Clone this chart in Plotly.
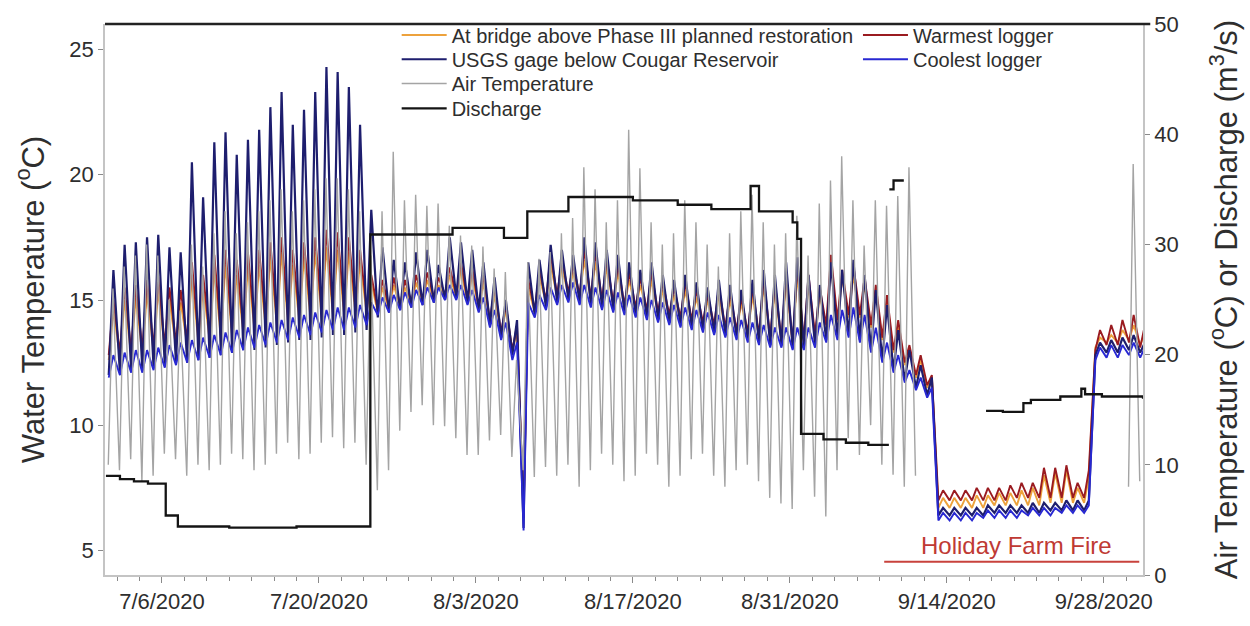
import pandas as pd
import plotly.graph_objects as go

# Calendar days covered by the loggers (7/1/2020 .. 10/1/2020)
days = pd.date_range("2020-07-01", "2020-10-01", freq="D")

# ---- Water temperature, daily low / high (deg C) ----
usgs_high = [
    16.2, 17.2, 17.3, 17.5, 17.6, 17.1, 16.9, 20.5, 19.1, 21.3,
    21.7, 20.8, 21.4, 21.8, 22.7, 23.3, 22.0, 22.6, 23.3, 24.3,
    24.1, 23.5, 22.0, 18.6, 17.1, 16.6, 16.5, 16.9, 17.0, 16.4, 17.5,
    17.3, 17.0, 16.5, 15.9, 15.0, 14.2, 16.5, 16.6, 17.2, 17.0,
    16.8, 17.5, 17.3, 17.0, 16.8, 16.5, 16.2, 16.5, 16.0, 15.8,
    16.0, 15.7, 15.5, 15.8, 15.6, 15.4, 15.8, 16.2, 16.0, 16.5, 16.7,
    16.0, 15.6, 16.5, 16.2, 16.6, 16.0, 15.4, 14.8, 13.8, 13.0,
    12.4, 11.9, 6.7, 6.7, 6.7, 6.7, 6.8, 6.8, 6.8, 6.8,
    6.9, 6.9, 6.9, 7.0, 7.0, 7.0, 13.3, 13.4, 13.5, 13.6,
    13.3,
]
usgs_low = [
    12.0, 12.1, 12.2, 12.2, 12.3, 12.4, 12.5, 12.5, 12.6, 12.7,
    12.8, 12.9, 13.0, 13.0, 13.1, 13.2, 13.3, 13.4, 13.4, 13.5,
    13.6, 13.6, 13.7, 13.8, 14.3, 14.5, 14.6, 14.7, 14.8, 14.9, 15.0,
    15.1, 14.9, 14.6, 14.0, 13.5, 12.8, 5.9, 14.4, 14.7, 14.9,
    15.0, 14.9, 14.8, 14.7, 14.6, 14.5, 14.4, 14.3, 14.2, 14.1,
    14.0, 13.9, 13.8, 13.7, 13.6, 13.5, 13.4, 13.3, 13.2, 13.2, 13.1,
    13.1, 13.2, 13.4, 13.5, 13.6, 13.4, 13.0, 12.6, 12.2, 11.8,
    11.5, 11.2, 6.4, 6.4, 6.4, 6.4, 6.4, 6.5, 6.5, 6.5,
    6.5, 6.5, 6.6, 6.6, 6.6, 6.6, 12.8, 12.9, 12.9, 13.0,
    12.9,
]
bridge_high = [
    14.6, 15.0, 15.1, 15.3, 15.4, 15.0, 14.9, 15.9, 15.5, 16.2,
    16.4, 16.0, 16.3, 16.4, 16.7, 16.9, 16.4, 16.7, 16.9, 17.1,
    17.0, 16.9, 16.5, 15.7, 15.5, 15.6, 15.5, 15.7, 15.8, 15.6, 16.0,
    16.2, 16.0, 15.7, 15.2, 14.6, 13.8, 15.5, 15.9, 16.4, 16.3,
    16.1, 16.6, 16.5, 16.3, 16.1, 15.8, 15.6, 15.8, 15.4, 15.2,
    15.4, 15.1, 15.0, 15.2, 15.0, 14.9, 15.2, 15.6, 15.4, 15.8, 16.0,
    15.6, 15.2, 16.3, 15.9, 16.0, 15.6, 15.3, 14.9, 14.0, 13.0,
    12.6, 11.9, 7.1, 7.1, 7.1, 7.2, 7.2, 7.3, 7.3, 7.4,
    7.5, 8.0, 8.1, 8.2, 7.5, 7.9, 13.5, 13.6, 13.8, 14.0,
    13.7,
]
bridge_low = [
    12.6, 12.7, 12.8, 12.8, 12.9, 13.0, 13.1, 13.2, 13.3, 13.4,
    13.5, 13.6, 13.7, 13.8, 13.9, 14.0, 14.1, 14.2, 14.3, 14.3,
    14.4, 14.4, 14.5, 14.5, 14.5, 14.6, 14.7, 14.8, 14.9, 15.0, 15.1,
    15.1, 14.9, 14.6, 14.1, 13.6, 12.9, 6.5, 14.5, 14.9, 15.1,
    15.2, 15.1, 15.0, 14.9, 14.8, 14.7, 14.6, 14.5, 14.4, 14.3,
    14.2, 14.1, 14.0, 13.9, 13.8, 13.7, 13.6, 13.5, 13.4, 13.3, 13.2,
    13.3, 13.5, 13.9, 14.1, 14.3, 14.3, 13.9, 13.4, 12.9, 12.4,
    11.9, 11.5, 6.7, 6.7, 6.7, 6.7, 6.7, 6.8, 6.8, 6.8,
    6.8, 6.8, 6.9, 6.9, 6.9, 6.9, 13.1, 13.3, 13.3, 13.4,
    13.2,
]
warm_high = [
    15.0, 15.5, 15.6, 15.8, 15.9, 15.5, 15.4, 16.5, 16.0, 16.8,
    17.0, 16.6, 16.9, 17.0, 17.3, 17.5, 17.0, 17.3, 17.5, 17.8,
    17.7, 17.5, 17.0, 16.0, 15.8, 15.9, 15.8, 16.0, 16.1, 15.9, 16.3,
    16.5, 16.3, 16.0, 15.5, 14.8, 14.0, 15.8, 16.2, 16.8, 16.6,
    16.4, 17.0, 16.9, 16.6, 16.4, 16.1, 15.9, 16.1, 15.7, 15.5,
    15.7, 15.4, 15.2, 15.5, 15.3, 15.1, 15.5, 15.9, 15.7, 16.1, 16.3,
    16.0, 15.5, 16.8, 16.2, 16.4, 15.9, 15.6, 15.2, 14.2, 13.2,
    12.8, 12.0, 7.4, 7.4, 7.4, 7.5, 7.5, 7.5, 7.6, 7.7,
    7.7, 8.3, 8.3, 8.4, 7.7, 8.2, 13.8, 14.0, 14.2, 14.4,
    14.0,
]
warm_low = [
    12.8, 12.9, 13.0, 13.0, 13.1, 13.2, 13.3, 13.4, 13.5, 13.6,
    13.7, 13.8, 13.9, 14.0, 14.1, 14.2, 14.3, 14.4, 14.5, 14.5,
    14.6, 14.6, 14.7, 14.7, 14.6, 14.7, 14.8, 14.9, 15.0, 15.1, 15.2,
    15.2, 15.0, 14.7, 14.2, 13.7, 13.0, 6.3, 14.6, 15.0, 15.2,
    15.3, 15.2, 15.1, 15.0, 14.9, 14.8, 14.7, 14.6, 14.5, 14.4,
    14.3, 14.2, 14.1, 14.0, 13.9, 13.8, 13.7, 13.6, 13.5, 13.4, 13.3,
    13.4, 13.6, 14.0, 14.2, 14.4, 14.4, 14.0, 13.5, 13.0, 12.5,
    12.0, 11.6, 7.0, 7.0, 7.0, 7.0, 7.0, 7.0, 7.0, 7.1,
    7.1, 7.1, 7.1, 7.1, 7.1, 7.1, 13.0, 13.2, 13.2, 13.3,
    13.1,
]
cool_high = [
    12.8, 12.9, 13.0, 13.0, 13.1, 13.2, 13.3, 13.4, 13.5, 13.6,
    13.7, 13.8, 13.9, 14.0, 14.1, 14.2, 14.3, 14.4, 14.5, 14.6,
    14.7, 14.7, 14.8, 14.9, 15.1, 15.2, 15.3, 15.4, 15.5, 15.5, 15.6,
    15.6, 15.4, 15.1, 14.6, 14.1, 13.3, 14.9, 15.2, 15.5, 15.6,
    15.7, 15.6, 15.5, 15.4, 15.3, 15.2, 15.1, 15.0, 14.9, 14.8,
    14.7, 14.6, 14.5, 14.4, 14.3, 14.2, 14.1, 14.0, 13.9, 13.9, 13.9,
    13.9, 14.1, 14.4, 14.6, 14.7, 14.4, 13.9, 13.3, 12.8, 12.2,
    11.9, 11.5, 6.5, 6.5, 6.5, 6.5, 6.6, 6.6, 6.6, 6.6,
    6.7, 6.7, 6.7, 6.8, 6.8, 6.8, 13.1, 13.2, 13.2, 13.3,
    13.1,
]
cool_low = [
    11.9, 12.0, 12.1, 12.1, 12.2, 12.3, 12.4, 12.5, 12.6, 12.7,
    12.8, 12.9, 13.0, 13.1, 13.2, 13.3, 13.4, 13.5, 13.6, 13.7,
    13.8, 13.8, 13.9, 14.0, 14.4, 14.5, 14.6, 14.7, 14.8, 14.9, 15.0,
    15.0, 14.8, 14.5, 13.9, 13.4, 12.6, 5.8, 14.3, 14.6, 14.8,
    14.9, 14.8, 14.7, 14.6, 14.5, 14.4, 14.3, 14.2, 14.1, 14.0,
    13.9, 13.8, 13.7, 13.6, 13.5, 13.4, 13.3, 13.2, 13.1, 13.1, 13.0,
    13.0, 13.1, 13.3, 13.4, 13.5, 13.3, 12.9, 12.5, 12.1, 11.7,
    11.4, 11.1, 6.2, 6.2, 6.2, 6.2, 6.3, 6.3, 6.3, 6.3,
    6.4, 6.4, 6.4, 6.5, 6.5, 6.5, 12.6, 12.7, 12.7, 12.8,
    12.7,
]

# ---- Air temperature, daily low / high (deg C); station offline 9/11 - 9/29 ----
air_high = [
    26.0, 28.0, 29.0, 30.0, 29.0, 25.0, 24.0, 30.0, 28.0, 31.0,
    33.0, 31.0, 32.0, 33.0, 34.0, 35.0, 33.0, 34.0, 35.0, 36.0,
    36.0, 35.0, 33.0, 29.0, 33.0, 38.4, 34.0, 34.5, 33.5, 33.7, 31.7,
    30.8, 29.9, 29.8, 27.8, 27.5, 19.5, 28.4, 28.7, 29.3, 31.0,
    32.4, 37.0, 35.0, 32.0, 34.0, 40.4, 36.9, 32.0, 30.0, 31.0,
    34.0, 32.0, 30.0, 28.0, 31.0, 33.0, 34.5, 32.0, 30.0, 31.0, 32.6,
    29.0, 33.7, 35.8, 38.0, 34.0, 29.9, 34.0, 33.5, 34.4, 37.0,
] + [None] * 19 + [37.3, None]
air_low = [
    10.0, 9.5, 10.5, 8.5, 9.0, 11.0, 10.5, 9.0, 10.0, 9.5,
    10.0, 11.0, 10.5, 9.5, 10.0, 11.0, 12.0, 10.5, 11.0, 12.0,
    12.5, 11.5, 12.0, 10.0, 7.7, 9.5, 13.1, 14.8, 15.4, 13.6, 13.5,
    12.4, 10.9, 10.9, 12.2, 12.7, 10.7, 9.5, 8.9, 9.8, 9.0,
    10.0, 8.0, 9.5, 11.0, 10.0, 8.5, 9.0, 11.0, 10.0, 8.0,
    9.0, 10.5, 11.0, 9.0, 8.0, 9.5, 10.0, 8.5, 7.0, 6.5, 6.0,
    9.5, 7.1, 5.3, 9.5, 12.4, 10.9, 13.6, 10.0, 9.1, 8.0,
    9.0,
] + [None] * 18 + [8.0, 8.5]

# ---- Discharge (m3/s): step changes; None marks missing record ----
discharge_time = [
    "2020-07-01 00:00", "2020-07-02 06:00", "2020-07-03 12:00", "2020-07-04 18:00",
    "2020-07-06 08:00", "2020-07-07 10:00", "2020-07-12 00:00", "2020-07-18 00:00",
    "2020-07-24 14:00", "2020-07-31 22:00", "2020-08-05 12:00", "2020-08-07 14:00",
    "2020-08-11 06:00", "2020-08-17 00:00", "2020-08-21 00:00", "2020-08-24 00:00",
    "2020-08-27 12:00", "2020-08-28 06:00", "2020-08-31 06:00", "2020-08-31 16:00",
    "2020-09-01 00:00", "2020-09-03 00:00", "2020-09-05 00:00", "2020-09-07 00:00",
    "2020-09-08 20:00", "2020-09-08 20:30",
    "2020-09-08 21:00", "2020-09-09 06:00", "2020-09-10 04:00", "2020-09-10 05:00",
    "2020-09-17 12:00", "2020-09-19 00:00", "2020-09-20 20:00", "2020-09-21 12:00",
    "2020-09-24 03:00", "2020-09-26 00:00", "2020-09-26 08:00", "2020-09-27 20:00",
    "2020-10-01 12:00",
]
discharge_value = [
    9.0, 8.7, 8.5, 8.3,
    5.4, 4.4, 4.3, 4.4,
    30.9, 31.5, 30.6, 33.0,
    34.3, 34.0, 33.6, 33.2,
    35.3, 33.0, 32.0, 30.5,
    12.8, 12.3, 12.0, 11.8,
    11.8, None,
    35.0, 35.8, 35.8, None,
    14.9, 14.8, 15.6, 15.9,
    16.2, 16.9, 16.4, 16.2,
    16.0,
]

# ---- Holiday Farm Fire period ----
fire_time = ["2020-09-08 10:00", "2020-10-01 04:00"]
fire_level = [1.2, 1.2]
fire_label = "Holiday Farm Fire"


def daily_cycle(lows, highs, low_hour, high_hour):
    xs, ys = [], []
    for d, lo, hi in zip(days, lows, highs):
        xs += [d + pd.Timedelta(hours=low_hour), d + pd.Timedelta(hours=high_hour)]
        ys += [lo, hi]
    return xs, ys


air_x, air_y = daily_cycle(air_low, air_high, 5, 15)
usgs_x, usgs_y = daily_cycle(usgs_low, usgs_high, 6, 16)
bridge_x, bridge_y = daily_cycle(bridge_low, bridge_high, 6, 16)
warm_x, warm_y = daily_cycle(warm_low, warm_high, 6, 16)
cool_x, cool_y = daily_cycle(cool_low, cool_high, 6, 16)

fig = go.Figure()

# each legend entry sits in its own legend box so rows can be placed freely
fig.add_trace(go.Scatter(
    x=air_x, y=air_y, yaxis="y2", mode="lines", name="Air Temperature",
    line=dict(color="#A4A4A4", width=1.4), connectgaps=False, legend="legend3"))
fig.add_trace(go.Scatter(
    x=pd.to_datetime(discharge_time), y=discharge_value, yaxis="y2", mode="lines",
    name="Discharge", line=dict(color="#141414", width=2.3, shape="hv"),
    connectgaps=False, legend="legend4"))
fig.add_trace(go.Scatter(
    x=bridge_x, y=bridge_y, mode="lines",
    name="At bridge above Phase III planned restoration",
    line=dict(color="#EDA23C", width=1.9), legend="legend"))
fig.add_trace(go.Scatter(
    x=warm_x, y=warm_y, mode="lines", name="Warmest logger",
    line=dict(color="#9A1B20", width=1.9), legend="legend5"))
fig.add_trace(go.Scatter(
    x=usgs_x, y=usgs_y, mode="lines", name="USGS gage below Cougar Reservoir",
    line=dict(color="#1E1E6E", width=2.2), legend="legend2"))
fig.add_trace(go.Scatter(
    x=cool_x, y=cool_y, mode="lines", name="Coolest logger",
    line=dict(color="#2828D2", width=1.9), legend="legend6"))
fig.add_trace(go.Scatter(
    x=pd.to_datetime(fire_time), y=fire_level, yaxis="y2", mode="lines",
    line=dict(color="#C8423C", width=2), showlegend=False, hoverinfo="skip"))

axis_grey = "#C4C4C4"
tick_grey = "#8A8A8A"
text_col = "#2E2E2E"


def legend_box(x, y):
    return dict(x=x, y=y, xanchor="left", yanchor="middle",
                bgcolor="rgba(255,255,255,0)",
                font=dict(size=20, color=text_col), itemwidth=45)


col1, col2 = 0.281, 0.7254
rows = [0.980, 0.936, 0.892, 0.847]

fig.update_layout(
    width=1250, height=626,
    margin=dict(l=105, r=107, t=17, b=46),
    paper_bgcolor="white", plot_bgcolor="white",
    font=dict(family="Liberation Sans, Arial, sans-serif", color=text_col),
    showlegend=True,
    xaxis=dict(
        type="date",
        range=["2020-06-30 22:00", "2020-10-01 12:00"],
        tick0="2020-07-06", dtick=14 * 86400000, tickformat="%-m/%-d/%Y",
        ticks="outside", ticklen=6, tickcolor=tick_grey,
        showline=True, linecolor=axis_grey, linewidth=1.5,
        showgrid=False, zeroline=False, tickfont=dict(size=22, color=text_col),
        minor=dict(tick0="2020-07-06", dtick=2 * 86400000, ticks="outside",
                   ticklen=4, tickcolor=tick_grey, showgrid=False),
    ),
    yaxis=dict(
        range=[4.02, 26.02], tickvals=[5, 10, 15, 20, 25],
        ticks="outside", ticklen=5, tickcolor=tick_grey,
        showline=True, linecolor=axis_grey, linewidth=1.5,
        showgrid=False, zeroline=False, tickfont=dict(size=22, color=text_col),
        title=dict(text="Water Temperature (<sup>o</sup>C)",
                   font=dict(size=31, color=text_col), standoff=16),
    ),
    yaxis2=dict(
        overlaying="y", side="right", range=[0, 50],
        tickvals=[0, 10, 20, 30, 40, 50],
        ticks="outside", ticklen=5, tickcolor=tick_grey,
        showline=True, linecolor=axis_grey, linewidth=1.5,
        showgrid=False, zeroline=False, tickfont=dict(size=22, color=text_col),
        title=dict(text="Air Temperature (<sup>o</sup>C) or Discharge (m<sup>3</sup>/s)",
                   font=dict(size=31, color=text_col), standoff=38),
    ),
    legend=legend_box(col1, rows[0]),
    legend2=legend_box(col1, rows[1]),
    legend3=legend_box(col1, rows[2]),
    legend4=legend_box(col1, rows[3]),
    legend5=legend_box(col2, rows[0]),
    legend6=legend_box(col2, rows[1]),
    shapes=[dict(type="line", xref="paper", yref="paper",
                 x0=0, x1=1.007, y0=1, y1=1,
                 line=dict(color="#222222", width=2.5))],
    annotations=[dict(x="2020-09-20 05:00", y=2.7, xref="x", yref="y2",
                      text=fire_label, showarrow=False,
                      font=dict(size=24, color="#BF3A34"))],
)

fig.write_html("out.html")
